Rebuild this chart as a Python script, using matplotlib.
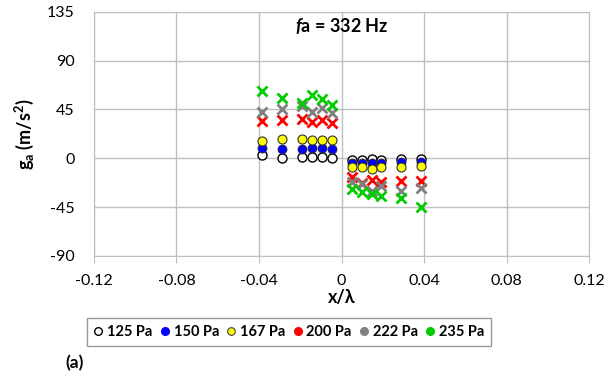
import numpy as np
import matplotlib.pyplot as plt
from matplotlib.lines import Line2D

plt.rcParams['font.family'] = ['Lato', 'DejaVu Sans']
plt.rcParams['axes.unicode_minus'] = False
plt.rcParams['mathtext.fontset'] = 'custom'
plt.rcParams['mathtext.rm'] = 'Lato:bold'
plt.rcParams['mathtext.bf'] = 'Lato:bold'
plt.rcParams['mathtext.it'] = 'Lato:italic:bold'

# probe positions x/lambda (left and right of the source)
x_pos = [-0.0387, -0.029, -0.0193, -0.0145, -0.0097, -0.0048,
         0.0048, 0.0097, 0.0145, 0.0193, 0.029, 0.0387]

g_125 = [3.0, 0.6, 1.5, 1.5, 1.5, 0.6, -1.5, -1.5, -1.0, -1.5, -1.0, -1.0]
g_150 = [9.2, 8.3, 8.3, 9.8, 9.8, 8.3, -4.0, -4.0, -4.0, -4.0, -3.5, -3.5]
g_167 = [15.9, 18.1, 18.1, 16.8, 16.8, 16.8, -7.7, -7.7, -9.5, -7.7, -7.7, -7.0]
g_200 = [34.3, 34.9, 35.8, 33.7, 34.9, 32.8, -16.8, -22.5, -20.2, -21.7, -20.8, -21.3]
g_222 = [42.9, 45.9, 48.0, 42.5, 46.5, 42.0, -22.3, -23.9, -30.0, -25.4, -30.6, -27.0]
g_235 = [61.8, 55.7, 51.1, 58.8, 54.8, 48.7, -28.5, -30.9, -33.0, -34.6, -37.0, -45.3]

labels = ['125 Pa', '150 Pa', '167 Pa', '200 Pa', '222 Pa', '235 Pa']

fig = plt.figure(figsize=(6.1, 3.82), dpi=100)
ax = fig.add_axes([0.154, 0.330, 0.812, 0.639])

gc = '#bfbfbf'
ax.plot(x_pos, g_125, 'o', ms=6.5, mfc='white', mec='black', mew=1.0)
ax.plot(x_pos, g_150, 'o', ms=6.5, mfc='#0000ff', mec='#303030', mew=0.6)
ax.plot(x_pos, g_167, 'o', ms=6.5, mfc='#ffff00', mec='#303030', mew=0.8)
ax.plot(x_pos, g_200, 'x', ms=7, mec='#ff0000', mew=2.0)
ax.plot(x_pos, g_222, 'x', ms=7, mec='#808080', mew=2.0)
ax.plot(x_pos, g_235, 'x', ms=7, mec='#00cc00', mew=2.0)

ax.set_xlim(-0.12, 0.12)
ax.set_ylim(-90, 135)
ax.set_xticks(np.arange(-0.12, 0.121, 0.04))
ax.set_xticklabels(['-0.12', '-0.08', '-0.04', '0', '0.04', '0.08', '0.12'])
ax.set_yticks(np.arange(-90, 136, 45))
ax.grid(True, color=gc, lw=1.0)
for s in ax.spines.values():
    s.set_color(gc)
ax.tick_params(axis='x', length=5, color=gc, labelsize=11.5, pad=8)
ax.tick_params(axis='y', length=0, labelsize=11.5, pad=14)
ax.set_axisbelow(True)

ax.set_xlabel('x/λ', fontsize=13, fontweight='bold', labelpad=1)
ax.set_ylabel(r'g$_\mathbf{a}$ (m/s$^{2}$)', fontsize=13, fontweight='bold', labelpad=8)
ax.text(0.5, 0.985, r'$f$a = 332 Hz', transform=ax.transAxes, ha='center', va='top',
        fontsize=13, fontweight='bold')

handles = [
    Line2D([], [], ls='', marker='o', ms=5.5, mfc='white', mec='black', mew=1.0),
    Line2D([], [], ls='', marker='o', ms=5.5, mfc='#0000ff', mec='#0000ff'),
    Line2D([], [], ls='', marker='o', ms=5.5, mfc='#ffff00', mec='#404040', mew=0.8),
    Line2D([], [], ls='', marker='o', ms=5.5, mfc='#ff0000', mec='#ff0000'),
    Line2D([], [], ls='', marker='o', ms=5.5, mfc='#808080', mec='#808080'),
    Line2D([], [], ls='', marker='o', ms=5.5, mfc='#00cc00', mec='#00cc00'),
]
leg = fig.legend(handles, labels, loc='center', bbox_to_anchor=(0.474, 0.131), ncol=6,
                 fancybox=False, handlelength=0.6, handletextpad=0.3,
                 columnspacing=0.55, borderpad=0.45,
                 prop={'size': 10.5, 'weight': 'bold'})
leg.get_frame().set_edgecolor('#808080')
leg.get_frame().set_linewidth(1.0)

fig.text(0.123, 0.05, '(a)', fontsize=12.5, fontweight='bold', ha='center', va='center')

fig.savefig('out.png', dpi=100)
